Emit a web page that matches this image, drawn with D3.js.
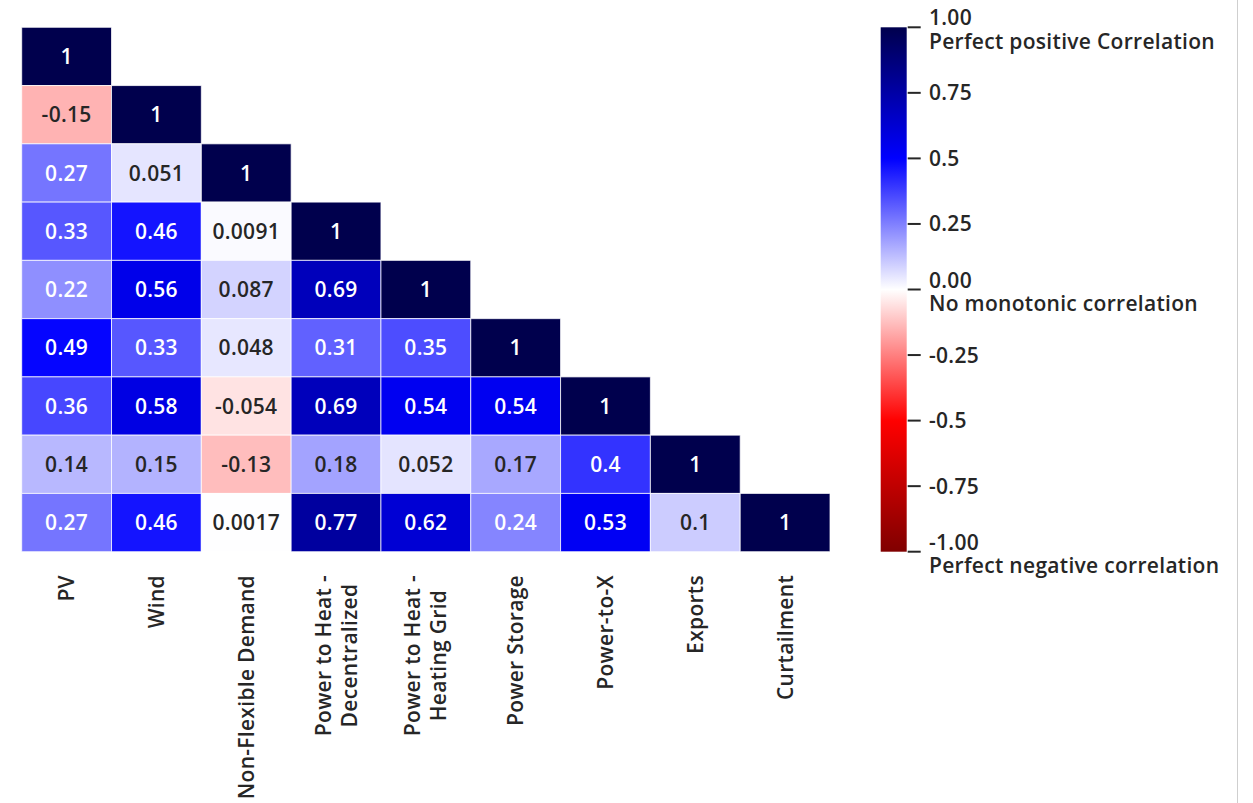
<!DOCTYPE html>
<html>
<head>
<meta charset="utf-8">
<script src="https://cdn.jsdelivr.net/npm/d3@7"></script>
<style>
  html, body { margin: 0; padding: 0; background: #fff; }
  svg { display: block; font-family: "Open Sans", "Noto Sans", sans-serif; font-weight: 600; }
</style>
</head>
<body>
<svg id="chart" width="1253" height="803"></svg>
<script>
// Variables compared in the Spearman correlation matrix
const categories = [
  "PV",
  "Wind",
  "Non-Flexible Demand",
  "Power to Heat -\nDecentralized",
  "Power to Heat -\nHeating Grid",
  "Power Storage",
  "Power-to-X",
  "Exports",
  "Curtailment"
];

// Lower triangle of the correlation matrix (row i holds columns 0..i)
const rowPV            = [1];
const rowWind          = [-0.15, 1];
const rowNonFlexible   = [0.27, 0.051, 1];
const rowHeatDecentral = [0.33, 0.46, 0.0091, 1];
const rowHeatGrid      = [0.22, 0.56, 0.087, 0.69, 1];
const rowStorage       = [0.49, 0.33, 0.048, 0.31, 0.35, 1];
const rowPowerToX      = [0.36, 0.58, -0.054, 0.69, 0.54, 0.54, 1];
const rowExports       = [0.14, 0.15, -0.13, 0.18, 0.052, 0.17, 0.4, 1];
const rowCurtailment   = [0.27, 0.46, 0.0017, 0.77, 0.62, 0.24, 0.53, 0.1, 1];

const matrixRows = [rowPV, rowWind, rowNonFlexible, rowHeatDecentral, rowHeatGrid,
                    rowStorage, rowPowerToX, rowExports, rowCurtailment];

// Colour bar ticks and their labels
const cbarTicks  = [1, 0.75, 0.5, 0.25, 0, -0.25, -0.5, -0.75, -1];
const cbarLabels = [
  "1.00\nPerfect positive Correlation",
  "0.75",
  "0.5",
  "0.25",
  "0.00\nNo monotonic correlation",
  "-0.25",
  "-0.5",
  "-0.75",
  "-1.00\nPerfect negative correlation"
];

const svg = d3.select("#chart");
const textColor = "#262626";
const fontSize = 21;
const tracking = "0.3px";

// Diverging red-white-blue colour map (red negative, navy positive)
const color = d3.scaleLinear()
  .domain([-1, -0.5, 0, 0.5, 1])
  .range(["#800000", "#ff0000", "#ffffff", "#0000ff", "#00004d"])
  .clamp(true);

const grid = { left: 21.7, right: 830, top: 27.3, bottom: 551.7 };

const x = d3.scaleBand().domain(d3.range(categories.length)).range([grid.left, grid.right]);
const y = d3.scaleBand().domain(d3.range(categories.length)).range([grid.top, grid.bottom]);

const cells = [];
matrixRows.forEach((row, i) => row.forEach((v, j) => cells.push({ i, j, v })));

// Pick white or dark annotation text from the cell colour's luminance
function luminance(c) {
  const rgb = d3.rgb(c);
  const lin = [rgb.r, rgb.g, rgb.b].map(u => {
    u /= 255;
    return u <= 0.03928 ? u / 12.92 : Math.pow((u + 0.055) / 1.055, 2.4);
  });
  return 0.2126 * lin[0] + 0.7152 * lin[1] + 0.0722 * lin[2];
}

const gCells = svg.append("g");
gCells.selectAll("rect")
  .data(cells)
  .join("rect")
  .attr("x", d => x(d.j))
  .attr("y", d => y(d.i))
  .attr("width", x.bandwidth())
  .attr("height", y.bandwidth())
  .attr("fill", d => color(d.v))
  .attr("stroke", "#ffffff")
  .attr("stroke-opacity", 0.75)
  .attr("stroke-width", 1);

gCells.selectAll("text")
  .data(cells)
  .join("text")
  .attr("x", d => x(d.j) + x.bandwidth() / 2)
  .attr("y", d => y(d.i) + y.bandwidth() / 2)
  .attr("dy", "0.36em")
  .attr("text-anchor", "middle")
  .attr("font-size", fontSize)
  .attr("letter-spacing", tracking)
  .attr("fill", d => luminance(color(d.v)) < 0.408 ? "#ffffff" : textColor)
  .text(d => String(d.v));

// Rotated category labels under each column; multi-line labels are centred line by line
const labelTop = 575;
const lineGap = 26;
const gLabels = svg.append("g");
categories.forEach((name, j) => {
  const lines = name.split("\n");
  const g = gLabels.append("g")
    .attr("transform", `translate(${x(j) + x.bandwidth() / 2},${labelTop}) rotate(-90)`);
  const label = g.append("text")
    .attr("font-size", fontSize)
    .attr("letter-spacing", tracking)
    .attr("fill", textColor)
    .attr("text-anchor", "middle");
  const spans = lines.map((ln, k) => label.append("tspan")
    .attr("y", (k - (lines.length - 1) / 2) * lineGap)
    .attr("dy", "0.36em")
    .text(ln));
  const maxW = d3.max(spans, s => s.node().getComputedTextLength());
  spans.forEach(s => s.attr("x", -maxW / 2));
});

// Colour bar
const cbar = { left: 880.7, width: 26, top: 27.3, bottom: 551.7 };
const cy = d3.scaleLinear().domain([-1, 1]).range([cbar.bottom, cbar.top]);

const defs = svg.append("defs");
const grad = defs.append("linearGradient")
  .attr("id", "cbarGrad")
  .attr("x1", 0).attr("y1", 1).attr("x2", 0).attr("y2", 0);
d3.range(0, 1.0001, 0.05).forEach(t => {
  grad.append("stop")
    .attr("offset", t)
    .attr("stop-color", color(-1 + 2 * t));
});

svg.append("rect")
  .attr("x", cbar.left)
  .attr("y", cbar.top)
  .attr("width", cbar.width)
  .attr("height", cbar.bottom - cbar.top)
  .attr("fill", "url(#cbarGrad)");

const gTicks = svg.append("g");
cbarTicks.forEach((t, k) => {
  const ty = cy(t);
  gTicks.append("line")
    .attr("x1", cbar.left + cbar.width + 1)
    .attr("x2", cbar.left + cbar.width + 14)
    .attr("y1", ty).attr("y2", ty)
    .attr("stroke", textColor)
    .attr("stroke-width", 2);
  const lines = cbarLabels[k].split("\n");
  const label = gTicks.append("text")
    .attr("font-size", fontSize)
    .attr("letter-spacing", tracking)
    .attr("fill", textColor);
  lines.forEach((ln, m) => {
    const base = lines.length === 1 ? ty + 7.5 : (m === 0 ? ty - 2 : ty + 21.5);
    label.append("tspan")
      .attr("x", 929)
      .attr("y", base)
      .text(ln);
  });
});

// Thin frame line at the right edge of the figure
svg.append("line")
  .attr("x1", 1237.5).attr("x2", 1237.5)
  .attr("y1", 0).attr("y2", 803)
  .attr("stroke", "#cfcfcf")
  .attr("stroke-width", 1);
</script>
</body>
</html>
